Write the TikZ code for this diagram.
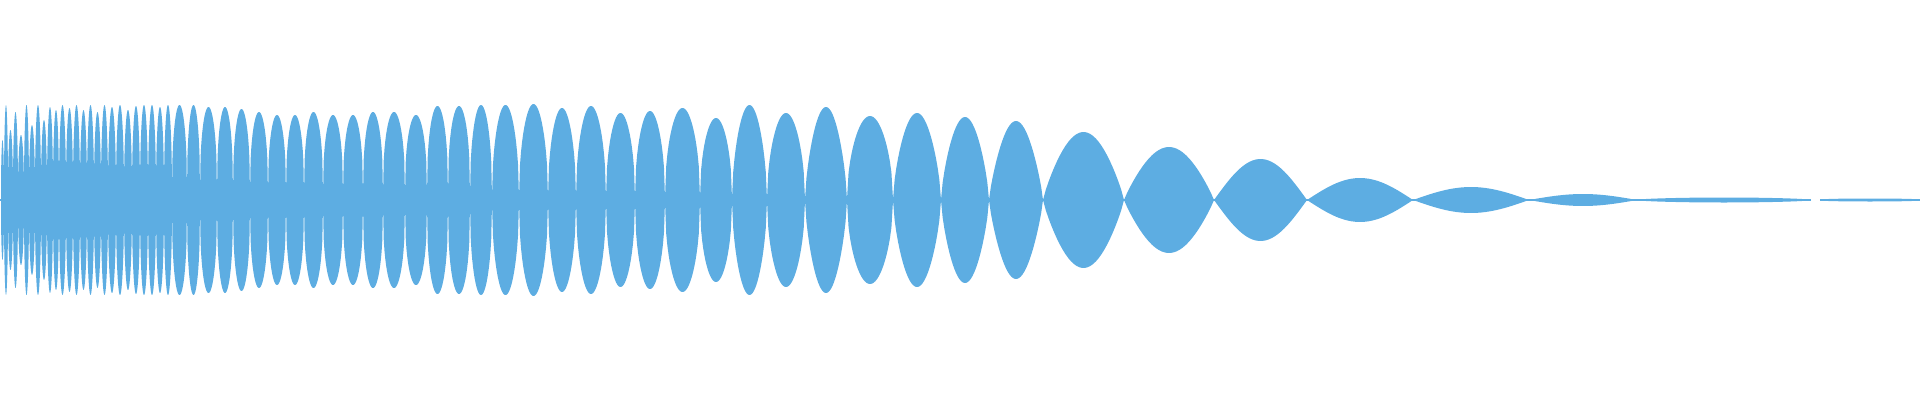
\documentclass[tikz,border=0pt]{standalone}
\definecolor{wave}{RGB}{93,173,226}
\begin{document}
\begin{tikzpicture}[x=1pt,y=1pt]
\useasboundingbox (0,0) rectangle (1920,400);
\fill[wave] (1,182) rectangle (160,218);
\fill[wave] (160,188) rectangle (172,212);
\foreach \a/\b/\h/\p in {
1/4/60/0.4,4/8/95/0.4,8/13/70/0.4,13/18/88/0.4,18/24/65/0.4,24/29/95/0.4,29/35/75/0.4,35/41/95/0.4,41/47/80/0.4,47/53/93/0.4,53/59/90/0.4,59/66/95/0.4,66/73/92/0.4,73/80/95/0.4,80/87/90/0.4,87/94/95/0.4,94/101/88/0.4,101/108/95/0.4,108/116/93/0.4,116/124/95/0.4,124/132/90/0.4,132/140/94/0.4,140/148/95/0.4,148/156/95/0.4,156/164/93/0.4,164/172/95/0.4,
172/187/95/0.35,187/200/95/0.35,200/217/93/0.35,217/233/93/0.35,233/250/91/0.35,250/268/88/0.35,268/286/85/0.35,286/304/85/0.35,304/323/88/0.35,323/343/85/0.35,343/363/85/0.35,363/383/88/0.35,383/405/88/0.35,405/427/85/0.35,427/448/94/0.35,448/470/94/0.35,470/492/95/0.4,
492/519/95/0.45,519/548/96/0.45,548/576/92/0.45,576/606/94/0.45,606/635/87/0.45,635/665/89/0.45,665/700/92/0.45,700/732/82/0.45,732/767/95/0.55,767/805/87/0.5,805/847/93/0.65,847/893/84/0.5,893/941/87/0.65,941/989/83/0.7,
989/1043/79/0.8,1043/1124/68/0.85,1124/1214/53/0.9,1214/1307/41/1,1307/1413/22/1,1413/1529/13/1,1529/1637/6/1,1637/1811/2.5/0.5,1820/1920/1.5/0.3}{
  \fill[wave] plot[domain=\a:\b,samples=30] (\x,{200+\h*pow(max(sin(((\x-\a)/(\b-\a))*180),0.0001),\p)})
   -- plot[domain=\b:\a,samples=30] (\x,{200-\h*pow(max(sin(((\x-\a)/(\b-\a))*180),0.0001),\p)}) -- cycle;
}
\fill[wave] (0,199.3) rectangle (1811,200.7);
\fill[wave] (1820,199.3) rectangle (1920,200.7);
\end{tikzpicture}
\end{document}
